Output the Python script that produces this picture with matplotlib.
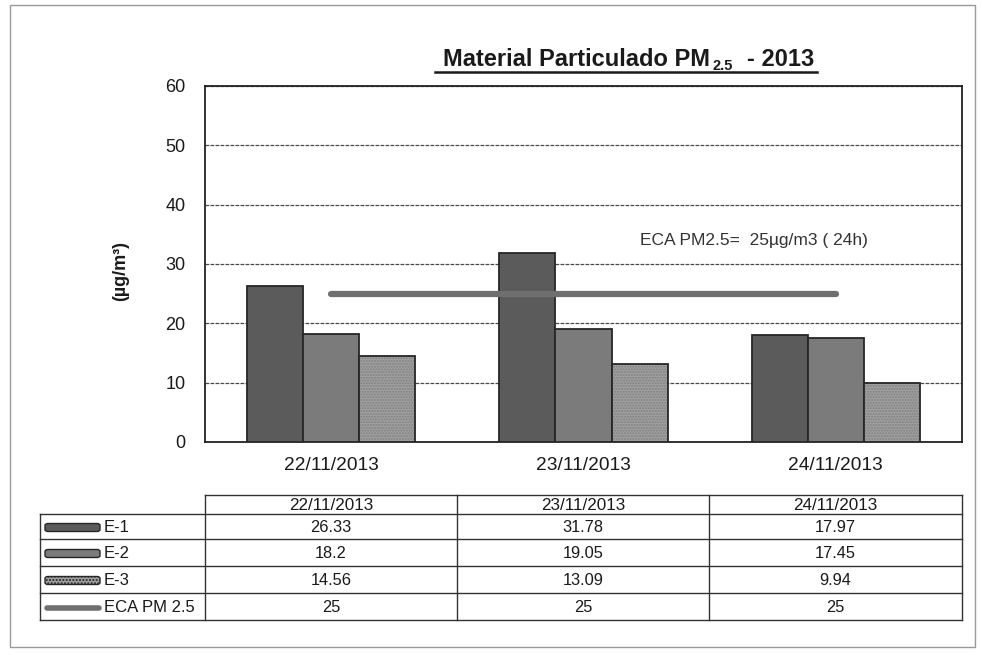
import matplotlib

matplotlib.use("Agg")
import matplotlib.pyplot as plt
import numpy as np
from matplotlib.lines import Line2D
from matplotlib.patches import Rectangle, FancyBboxPatch

plt.rcParams["font.family"] = ["Liberation Sans", "DejaVu Sans"]

# ==================== Data ====================
DATES = ["22/11/2013", "23/11/2013", "24/11/2013"]
SERIES = ["E-1", "E-2", "E-3"]
E1 = [26.33, 31.78, 17.97]
E2 = [18.2, 19.05, 17.45]
E3 = [14.56, 13.09, 9.94]
ECA = [25, 25, 25]
ECA_LABEL = "ECA PM 2.5"
Y_TICKS = [0, 10, 20, 30, 40, 50, 60]
# ===============================================

W, H = 982, 655
COLORS = ["#5b5b5b", "#7b7b7b", "#a0a0a0"]
EDGE = "#262626"
GRID = "#4a4a4a"
ECA_COLOR = "#6f6f6f"
TXT = "#1a1a1a"


def px(x, y):
    """pixel (top-left origin) -> figure fraction"""
    return x / W, 1 - y / H


fig = plt.figure(figsize=(W / 100, H / 100), dpi=100)
renderer = fig.canvas.get_renderer()

# outer frame
fig.patches.append(
    Rectangle((10 / W, 1 - 647 / H), 965 / W, 642 / H, transform=fig.transFigure,
              fill=False, edgecolor="#9a9a9a", linewidth=1.0)
)

left, right, top, bottom = 205, 962, 86, 442
ax = fig.add_axes([left / W, 1 - bottom / H, (right - left) / W, (bottom - top) / H])

x = np.arange(len(DATES))
bw = 0.222
values = [E1, E2, E3]
for i, vals in enumerate(values):
    pos = x + (i - 1) * bw
    if i == 2:
        ax.bar(pos, vals, bw, color=COLORS[i], edgecolor="#808080", hatch="......",
               linewidth=0, zorder=3)
        ax.bar(pos, vals, bw, fill=False, edgecolor=EDGE, linewidth=1.3, zorder=4)
    else:
        ax.bar(pos, vals, bw, color=COLORS[i], edgecolor=EDGE, linewidth=1.3, zorder=3)

ax.plot(x, ECA, color=ECA_COLOR, linewidth=4.5, solid_capstyle="round", zorder=5)

ax.set_xlim(-0.5, len(DATES) - 0.5)
ax.set_ylim(Y_TICKS[0], Y_TICKS[-1])
ax.set_yticks(Y_TICKS)
ax.set_xticks(x)
ax.set_xticklabels(DATES, fontsize=13.8, color=TXT)
ax.tick_params(axis="y", labelsize=13, colors=TXT, length=0, pad=14)
ax.tick_params(axis="x", length=0, pad=11)
ax.yaxis.grid(True, color=GRID, linewidth=0.9, linestyle=(0, (3, 1)), zorder=0)
for s in ax.spines.values():
    s.set_color("#222222")
    s.set_linewidth(1.3)
ax.set_ylabel("(µg/m³)", fontsize=13, fontweight="bold", color=TXT)
ax.yaxis.set_label_coords(-0.1, 0.48)

ax.text(0.575, 0.565, f"ECA PM2.5=  {ECA[0]}µg/m3 ( 24h)", transform=ax.transAxes,
        fontsize=12.5, color="#333333", ha="left", va="center")

# title: main text, lowered subscript, tail, then one underline beneath all
inv = fig.transFigure.inverted()
tx, ty = px(443, 66)
t1 = fig.text(tx, ty, "Material Particulado PM", fontsize=17, fontweight="bold",
              ha="left", va="baseline", color=TXT)
b1 = t1.get_window_extent(renderer).transformed(inv)
t2 = fig.text(b1.x1 + 3 / W, ty - 4 / H, "2.5", fontsize=10.5, fontweight="bold",
              ha="left", va="baseline", color=TXT)
b2 = t2.get_window_extent(renderer).transformed(inv)
t3 = fig.text(b2.x1 + 14 / W, ty, "- 2013", fontsize=17, fontweight="bold",
              ha="left", va="baseline", color=TXT)
b3 = t3.get_window_extent(renderer).transformed(inv)
uy = 1 - 72 / H
fig.lines.append(Line2D([435 / W, b3.x1 + 2 / W], [uy, uy], transform=fig.transFigure,
                        color=TXT, linewidth=1.8))

# data table under the chart
col_x = [40, 205, 457, 709, 962]
row_y = [495, 514, 539, 566, 593, 620]
line_kw = dict(transform=fig.transFigure, color="#333333", linewidth=1.0)

# horizontal lines
for j, yy in enumerate(row_y):
    x0 = col_x[1] if j == 0 else col_x[0]
    fx0, fy = px(x0, yy)
    fx1, _ = px(col_x[-1], yy)
    fig.lines.append(Line2D([fx0, fx1], [fy, fy], **line_kw))
# vertical lines
for i, xx in enumerate(col_x):
    y0 = row_y[1] if i == 0 else row_y[0]
    fx, fy0 = px(xx, y0)
    _, fy1 = px(xx, row_y[-1])
    fig.lines.append(Line2D([fx, fx], [fy0, fy1], **line_kw))

# header
for i, d in enumerate(DATES):
    cx = (col_x[i + 1] + col_x[i + 2]) / 2
    cy = (row_y[0] + row_y[1]) / 2 + 1
    fx, fy = px(cx, cy)
    fig.text(fx, fy, d, fontsize=12.3, ha="center", va="center", color=TXT)

rows = [(SERIES[k], values[k]) for k in range(3)] + [(ECA_LABEL, ECA)]
for r, (label, vals) in enumerate(rows):
    cy = (row_y[r + 1] + row_y[r + 2]) / 2 + 1
    # legend swatch
    if r < 3:
        sx, sy = px(45, cy + 4)
        fig.patches.append(
            FancyBboxPatch((sx, sy), 55 / W, 8 / H, boxstyle="round,pad=0,rounding_size=0.003",
                           transform=fig.transFigure, facecolor=COLORS[r],
                           edgecolor=EDGE, linewidth=1.0, hatch="....." if r == 2 else None)
        )
    else:
        fx0, fy = px(47, cy)
        fx1, _ = px(99, cy)
        fig.lines.append(Line2D([fx0, fx1], [fy, fy], transform=fig.transFigure,
                                color=ECA_COLOR, linewidth=4, solid_capstyle="round"))
    fx, fy = px(104, cy)
    fig.text(fx, fy, label, fontsize=12, ha="left", va="center", color=TXT)
    for i, v in enumerate(vals):
        cx = (col_x[i + 1] + col_x[i + 2]) / 2
        fx, fy = px(cx, cy)
        fig.text(fx, fy, f"{v:g}", fontsize=11.8, ha="center", va="center", color=TXT)

fig.savefig("out.png", dpi=100)
plt.close(fig)
